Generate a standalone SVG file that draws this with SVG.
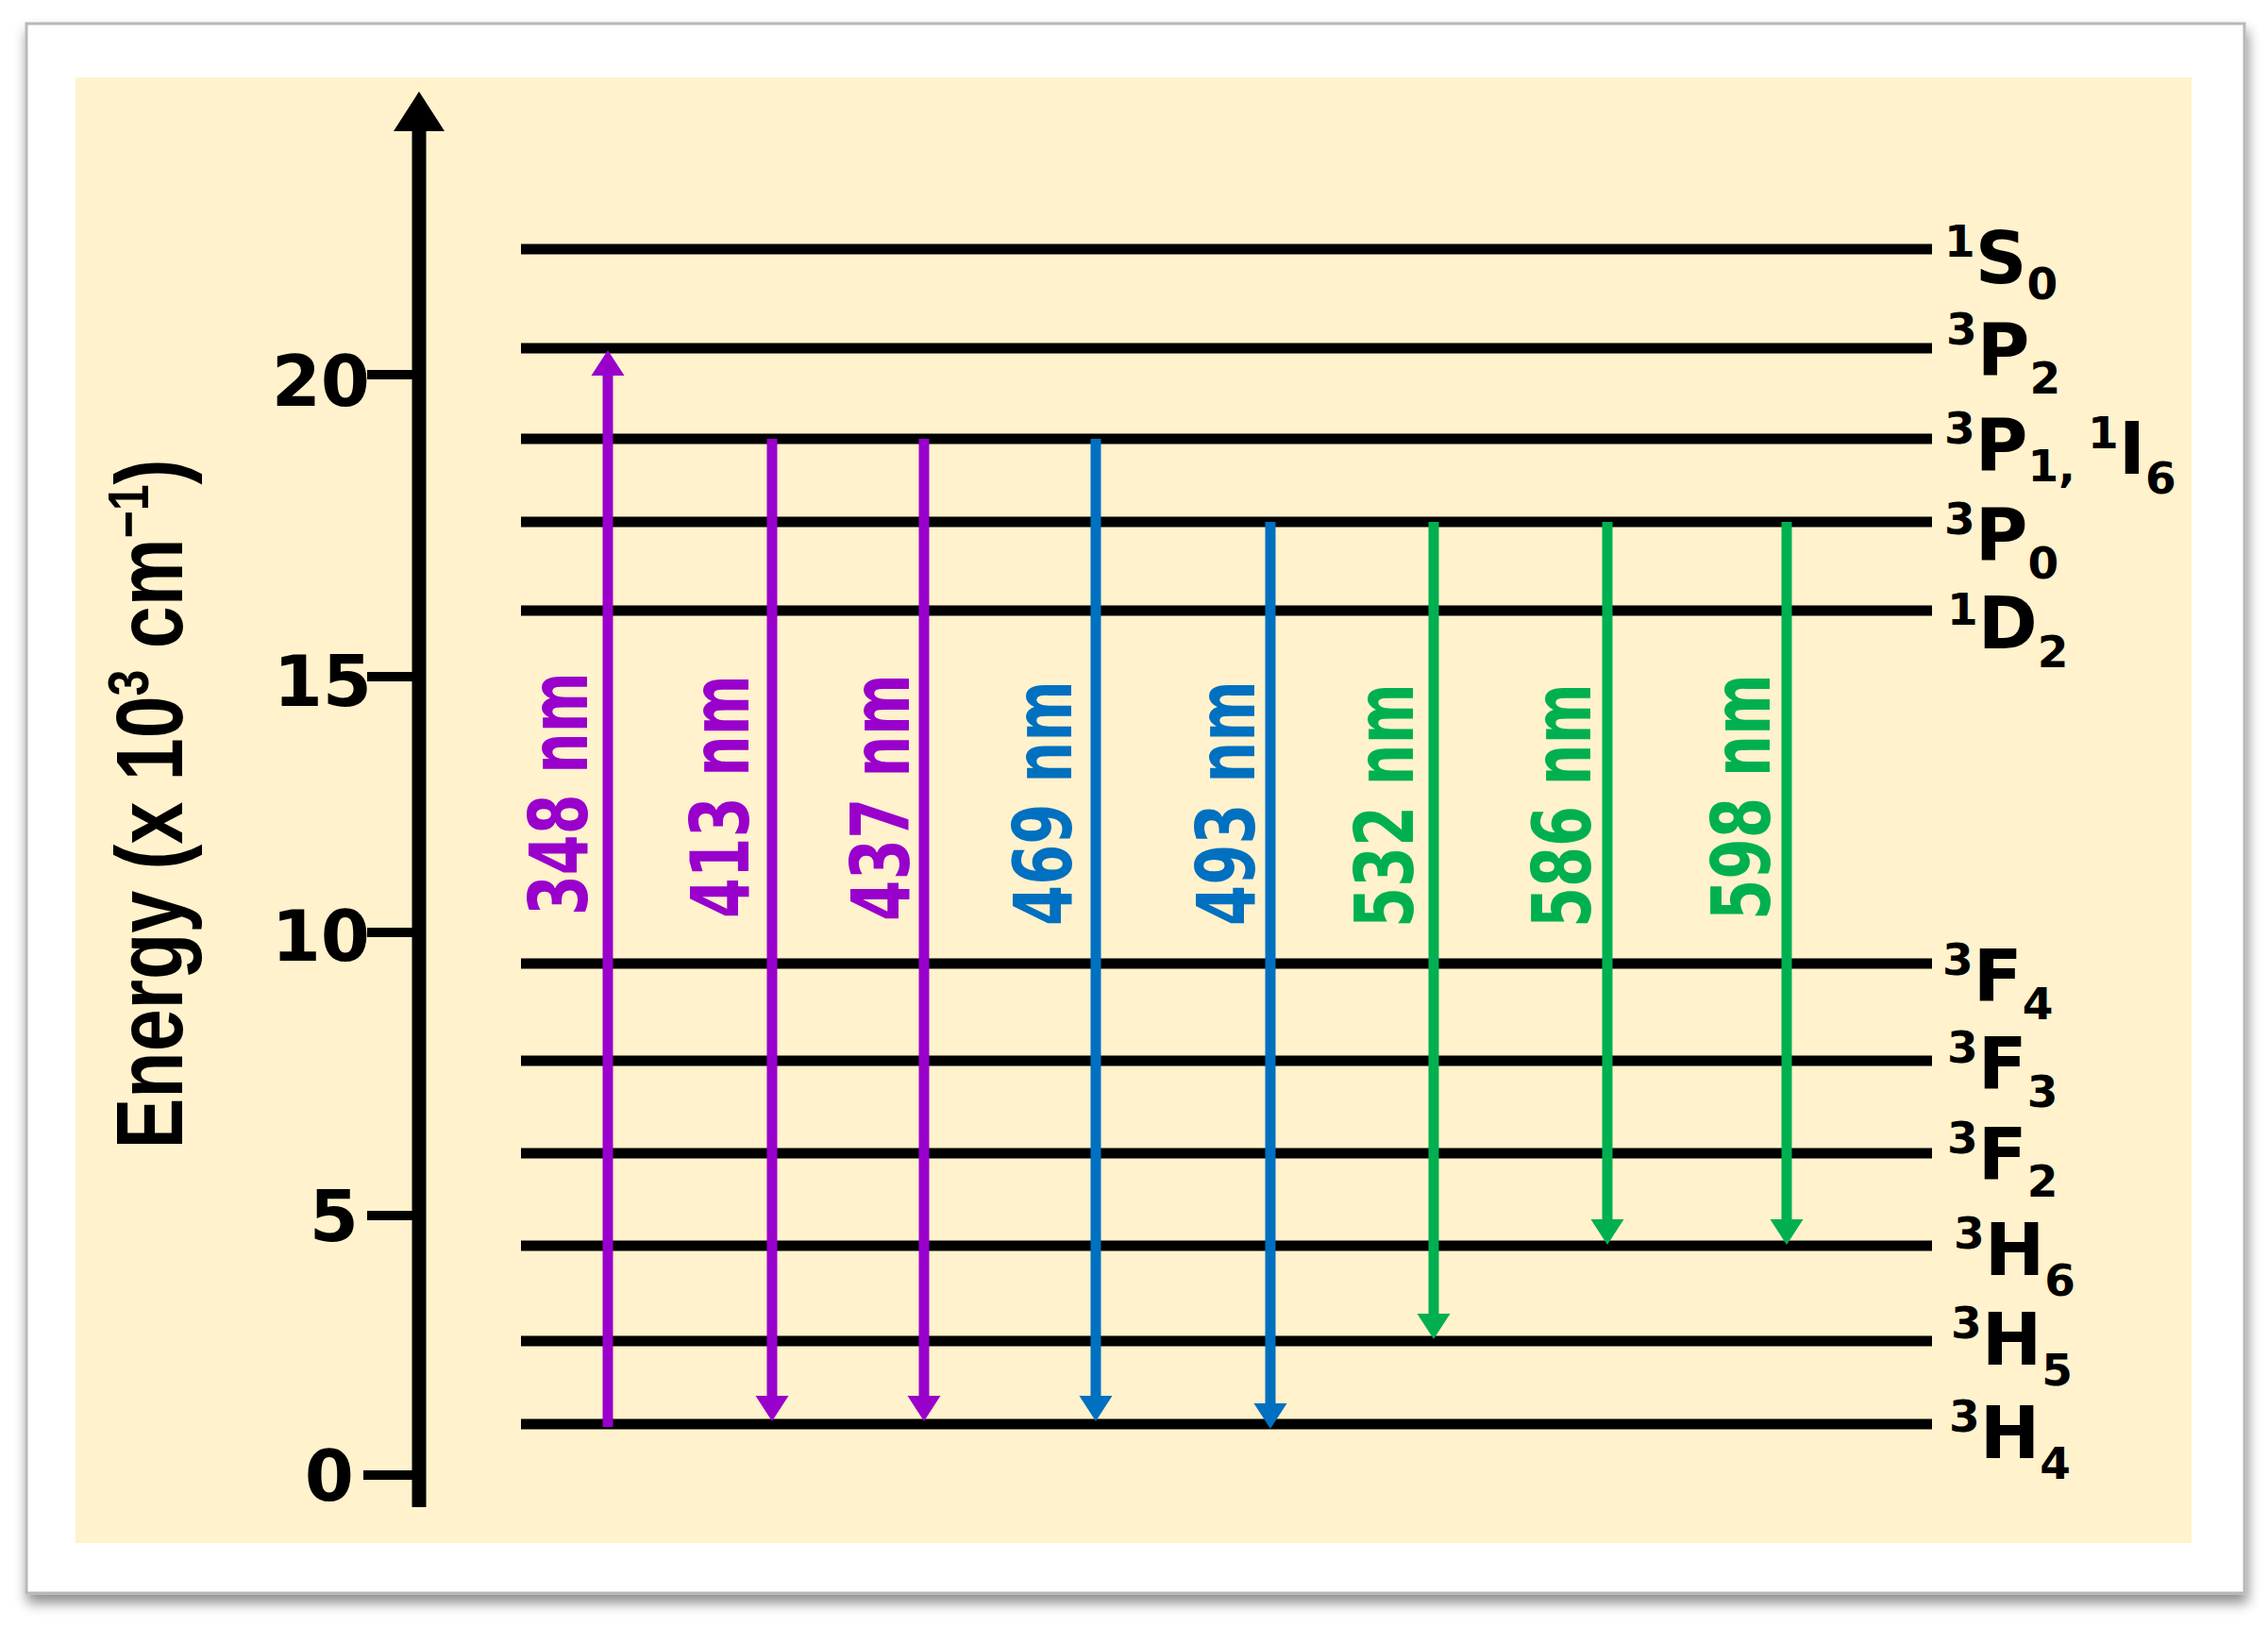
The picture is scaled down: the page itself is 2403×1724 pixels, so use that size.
<svg xmlns="http://www.w3.org/2000/svg" width="2403" height="1724" viewBox="0 0 2403 1724">
  <defs>
    <filter id="shadow" x="-3%" y="-3%" width="106%" height="108%">
      <feDropShadow dx="2" dy="9" stdDeviation="7" flood-color="#000" flood-opacity="0.45"/>
    </filter>
    <marker id="headPurple" markerUnits="userSpaceOnUse" markerWidth="30" markerHeight="40" viewBox="0 0 30 40" refX="0" refY="20" orient="auto" overflow="visible">
      <path d="M0,2.5 L27,20 L0,37.5 Z" fill="#9900CC"/>
    </marker>
    <marker id="headBlue" markerUnits="userSpaceOnUse" markerWidth="30" markerHeight="40" viewBox="0 0 30 40" refX="0" refY="20" orient="auto" overflow="visible">
      <path d="M0,2.5 L27,20 L0,37.5 Z" fill="#0070C0"/>
    </marker>
    <marker id="headGreen" markerUnits="userSpaceOnUse" markerWidth="30" markerHeight="40" viewBox="0 0 30 40" refX="0" refY="20" orient="auto" overflow="visible">
      <path d="M0,2.5 L27,20 L0,37.5 Z" fill="#00B050"/>
    </marker>
    <style>
      .level { stroke: #000; stroke-width: 11; }
      .tick { stroke: #000; stroke-width: 10; }
      .axis { stroke: #000; stroke-width: 15; }
      .num { font-family: "DejaVu Sans", Verdana, sans-serif; font-weight: bold; font-size: 75px; fill: #000; text-anchor: end; }
      .lab { font-family: "DejaVu Sans", Verdana, sans-serif; font-weight: bold; fill: #000; }
      .main { font-size: 76px; }
      .ss { font-size: 47px; }
      .arr { stroke-width: 11; fill: none; }
      .purple { stroke: #9900CC; }
      .blue { stroke: #0070C0; }
      .green { stroke: #00B050; }
      .wl { font-family: "DejaVu Sans", Verdana, sans-serif; font-weight: bold; font-size: 85px; }
      .tp { fill: #9900CC; }
      .tb { fill: #0070C0; }
      .tg { fill: #00B050; }
      .ylab { font-family: "Liberation Sans", Arial, sans-serif; font-weight: bold; font-size: 100px; fill: #000; text-anchor: middle; }
    </style>
  </defs>

  <!-- frame -->
  <rect x="28" y="25" width="2350" height="1663" fill="#fff" stroke="#b8b8b8" stroke-width="3" filter="url(#shadow)"/>
  <rect x="80" y="82" width="2242" height="1553" fill="#FFF2CC"/>

  <!-- axis -->
  <g id="axis">
    <line class="axis" x1="444" y1="130" x2="444" y2="1597"/>
    <polygon points="444,97 471,139 417,139" fill="#000"/>
    <line class="tick" x1="389" y1="397" x2="440" y2="397"/>
    <line class="tick" x1="389" y1="717" x2="440" y2="717"/>
    <line class="tick" x1="389" y1="988" x2="440" y2="988"/>
    <line class="tick" x1="389" y1="1288" x2="440" y2="1288"/>
    <line class="tick" x1="385" y1="1563" x2="440" y2="1563"/>
    <text class="num" x="392" y="430">20</text>
    <text class="num" x="394" y="748">15</text>
    <text class="num" x="392" y="1018">10</text>
    <text class="num" x="380" y="1315">5</text>
    <text class="num" x="375" y="1590">0</text>
    <text class="ylab" transform="translate(193,852) rotate(-90)" textLength="731" lengthAdjust="spacingAndGlyphs">Energy (x 10<tspan font-size="62" dy="-36">3</tspan><tspan dy="36"> cm</tspan><tspan font-size="62" dy="-36">−1</tspan><tspan dy="36">)</tspan></text>
  </g>

  <!-- levels -->
  <g id="level-1S0">
    <line class="level" x1="552" y1="264" x2="2047" y2="264"/>
    <text class="lab"><tspan class="ss" x="2060" y="272">1</tspan><tspan class="main" y="300">S</tspan><tspan class="ss" y="317">0</tspan></text>
  </g>
  <g id="level-3P2">
    <line class="level" x1="552" y1="369" x2="2047" y2="369"/>
    <text class="lab"><tspan class="ss" x="2062" y="365">3</tspan><tspan class="main" y="397">P</tspan><tspan class="ss" y="417">2</tspan></text>
  </g>
  <g id="level-3P1-1I6">
    <line class="level" x1="552" y1="465" x2="2047" y2="465"/>
    <text class="lab"><tspan class="ss" x="2060" y="470">3</tspan><tspan class="main" y="498">P</tspan><tspan class="ss" y="510">1,</tspan><tspan class="ss" x="2212" y="475">1</tspan><tspan class="main" y="502">I</tspan><tspan class="ss" y="523">6</tspan></text>
  </g>
  <g id="level-3P0">
    <line class="level" x1="552" y1="553" x2="2047" y2="553"/>
    <text class="lab"><tspan class="ss" x="2060" y="566">3</tspan><tspan class="main" y="593">P</tspan><tspan class="ss" y="613">0</tspan></text>
  </g>
  <g id="level-1D2">
    <line class="level" x1="552" y1="647" x2="2047" y2="647"/>
    <text class="lab"><tspan class="ss" x="2063" y="662">1</tspan><tspan class="main" y="687">D</tspan><tspan class="ss" y="707">2</tspan></text>
  </g>
  <g id="level-3F4">
    <line class="level" x1="552" y1="1021" x2="2047" y2="1021"/>
    <text class="lab"><tspan class="ss" x="2058" y="1033">3</tspan><tspan class="main" y="1061">F</tspan><tspan class="ss" y="1080">4</tspan></text>
  </g>
  <g id="level-3F3">
    <line class="level" x1="552" y1="1124" x2="2047" y2="1124"/>
    <text class="lab"><tspan class="ss" x="2063" y="1126">3</tspan><tspan class="main" y="1154">F</tspan><tspan class="ss" y="1173">3</tspan></text>
  </g>
  <g id="level-3F2">
    <line class="level" x1="552" y1="1222" x2="2047" y2="1222"/>
    <text class="lab"><tspan class="ss" x="2063" y="1222">3</tspan><tspan class="main" y="1250">F</tspan><tspan class="ss" y="1268">2</tspan></text>
  </g>
  <g id="level-3H6">
    <line class="level" x1="552" y1="1320" x2="2047" y2="1320"/>
    <text class="lab"><tspan class="ss" x="2070" y="1323">3</tspan><tspan class="main" y="1351">H</tspan><tspan class="ss" y="1373">6</tspan></text>
  </g>
  <g id="level-3H5">
    <line class="level" x1="552" y1="1421" x2="2047" y2="1421"/>
    <text class="lab"><tspan class="ss" x="2067" y="1418">3</tspan><tspan class="main" y="1446">H</tspan><tspan class="ss" y="1468">5</tspan></text>
  </g>
  <g id="level-3H4">
    <line class="level" x1="552" y1="1509" x2="2047" y2="1509"/>
    <text class="lab"><tspan class="ss" x="2065" y="1517">3</tspan><tspan class="main" y="1545">H</tspan><tspan class="ss" y="1567">4</tspan></text>
  </g>

  <!-- transitions -->
  <g id="connectors">
    <line class="arr purple" x1="644" y1="1512" x2="644" y2="398" marker-end="url(#headPurple)"/>
    <line class="arr purple" x1="818" y1="465" x2="818" y2="1479" marker-end="url(#headPurple)"/>
    <line class="arr purple" x1="979" y1="465" x2="979" y2="1479" marker-end="url(#headPurple)"/>
    <line class="arr blue" x1="1161" y1="465" x2="1161" y2="1479" marker-end="url(#headBlue)"/>
    <line class="arr blue" x1="1346" y1="553" x2="1346" y2="1487" marker-end="url(#headBlue)"/>
    <line class="arr green" x1="1519" y1="553" x2="1519" y2="1392" marker-end="url(#headGreen)"/>
    <line class="arr green" x1="1703" y1="553" x2="1703" y2="1292" marker-end="url(#headGreen)"/>
    <line class="arr green" x1="1893" y1="553" x2="1893" y2="1292" marker-end="url(#headGreen)"/>
  </g>

  <!-- transition labels -->
  <g id="labels">
    <text class="wl tp" transform="translate(622,970) rotate(-90)" textLength="258" lengthAdjust="spacingAndGlyphs">348 nm</text>
    <text class="wl tp" transform="translate(793,973) rotate(-90)" textLength="258" lengthAdjust="spacingAndGlyphs">413 nm</text>
    <text class="wl tp" transform="translate(963,976) rotate(-90)" textLength="262" lengthAdjust="spacingAndGlyphs">437 nm</text>
    <text class="wl tb" transform="translate(1135,981) rotate(-90)" textLength="260" lengthAdjust="spacingAndGlyphs">469 nm</text>
    <text class="wl tb" transform="translate(1329,981) rotate(-90)" textLength="260" lengthAdjust="spacingAndGlyphs">493 nm</text>
    <text class="wl tg" transform="translate(1497,983) rotate(-90)" textLength="259" lengthAdjust="spacingAndGlyphs">532 nm</text>
    <text class="wl tg" transform="translate(1685,983) rotate(-90)" textLength="259" lengthAdjust="spacingAndGlyphs">586 nm</text>
    <text class="wl tg" transform="translate(1875,975) rotate(-90)" textLength="261" lengthAdjust="spacingAndGlyphs">598 nm</text>
  </g>
</svg>
